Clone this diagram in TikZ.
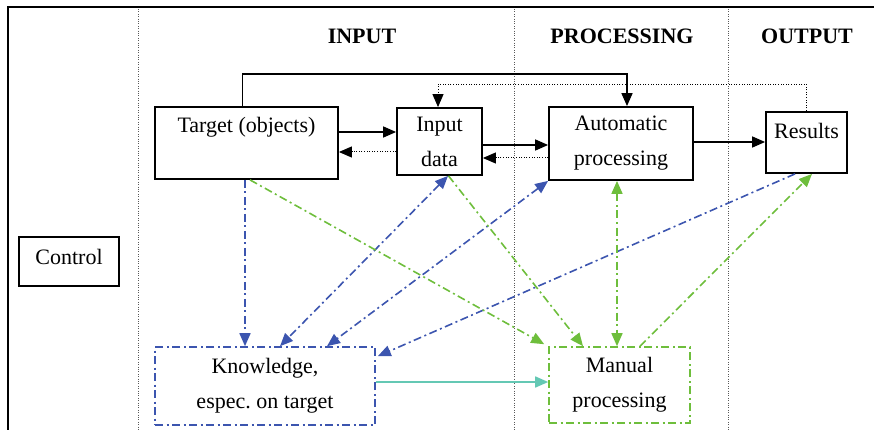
\documentclass[tikz,border=0pt]{standalone}
\usepackage{fontspec}
\setmainfont{Liberation Serif}
\usetikzlibrary{arrows.meta}
\definecolor{kblue}{RGB}{60,85,175}
\definecolor{kgreen}{RGB}{110,190,60}
\definecolor{kteal}{RGB}{100,200,180}
\begin{document}
\begin{tikzpicture}[x=1pt,y=-1pt,
  box/.style={draw,line width=1.8pt,inner sep=0pt,align=center,font=\fontsize{22}{35}\selectfont},
  txt/.style={inner sep=0pt,font=\fontsize{22}{35}\selectfont},
  head/.style={inner sep=0pt,font=\fontsize{22}{26}\selectfont\bfseries},
  tip/.style={-{Triangle[length=13pt,width=11pt]}},
  tips/.style={{Triangle[length=13pt,width=11pt]}-{Triangle[length=13pt,width=11pt]}},
  solidarr/.style={tip,line width=1.6pt},
  dotarr/.style={tip,line width=1pt,dash pattern=on 1pt off 1.6pt},
  sep/.style={line width=0.9pt,gray!70!black,dash pattern=on 1pt off 1.4pt},
  dd/.style={line width=1.6pt,dash pattern=on 8pt off 3.5pt on 2pt off 3.5pt},
  bluedd/.style={dd,kblue},
  greendd/.style={dd,kgreen}]
\useasboundingbox (0,0) rectangle (874,430);
% frame
\draw[line width=2pt] (8,430) -- (8,7) -- (874,7);
% separators
\draw[sep] (138,9) -- (138,430);
\draw[sep] (514,9) -- (514,430);
\draw[sep] (728,9) -- (728,430);
% headers
\node[head] (hin) at (362,36) {INPUT};
\node[head] (hproc) at (622,36) {PROCESSING};
\node[head] (hout) at (807,36) {OUTPUT};
% boxes
\node[box,minimum width=183,minimum height=72] (target) at (246.5,143) {};
\node[txt] (targettext) at (246.5,127) {Target (objects)};
\node[box,minimum width=85,minimum height=67] (indata) at (439.5,141.5) {Input\\data};
\node[box,minimum width=144,minimum height=73] (auto) at (621,143.5) {Automatic\\processing};
\node[box,minimum width=81,minimum height=61] (results) at (806.5,142.5) {};
\node[txt] (resultstext) at (806.5,131) {Results};
\node[box,minimum width=100,minimum height=49] (control) at (69,261.5) {};
\node[txt] (controltext) at (69,257) {Control};
\node[box,draw=kblue,minimum width=220,minimum height=78,line width=1.6pt,dash pattern=on 8pt off 3.5pt on 2pt off 3.5pt] (know) at (265,386) {Knowledge,\\espec.\ on target};
\node[box,draw=kgreen,minimum width=141,minimum height=76,line width=1.6pt,dash pattern=on 8pt off 3.5pt on 2pt off 3.5pt] (manual) at (619.5,385) {Manual\\processing};
% row coordinates
\coordinate (r1) at (0,132);
\coordinate (r2) at (0,152);
\coordinate (r3) at (0,145);
\coordinate (r4) at (0,158);
\coordinate (r5) at (0,142);
\coordinate (r6) at (0,382);
% black connectors
\draw[solidarr] ([xshift=-4pt]target.north) -- ++(0,-32) -| ([xshift=6pt]auto.north);
\draw[dotarr] (results.north) -- ++(0,-27) -| ([xshift=-1.5pt]indata.north);
\draw[solidarr] (target.east |- r1) -- (indata.west |- r1);
\draw[dotarr] (indata.west |- r2) -- (target.east |- r2);
\draw[solidarr] (indata.east |- r3) -- (auto.west |- r3);
\draw[dotarr] (auto.west |- r4) -- (indata.east |- r4);
\draw[solidarr] (auto.east |- r5) -- (results.west |- r5);
% blue
\draw[bluedd,tip] ([xshift=-1.5pt]target.south) -- ([xshift=-20pt]know.north);
\draw[bluedd,tips] ([xshift=8.5pt]indata.south) -- ([xshift=15pt]know.north);
\draw[bluedd,tips] (auto.south west) -- ([xshift=62pt]know.north);
\draw[bluedd,tip] ([xshift=-11.5pt]results.south) -- ([yshift=-10pt,xshift=2pt]know.north east);
% green
\draw[greendd,tip] ([xshift=3.5pt]target.south) -- ([xshift=-4pt,yshift=2pt]manual.north west);
\draw[greendd,tip] ([xshift=9pt]indata.south) -- ([xshift=-36.5pt]manual.north);
\draw[greendd,tips] ([xshift=-4pt]auto.south) -- ([xshift=-2.5pt]manual.north);
\draw[greendd,tip] ([xshift=20.5pt]manual.north) -- ([xshift=5.5pt]results.south);
% teal
\draw[kteal,line width=1.6pt,tip] (know.east |- r6) -- (manual.west |- r6);
\end{tikzpicture}
\end{document}
